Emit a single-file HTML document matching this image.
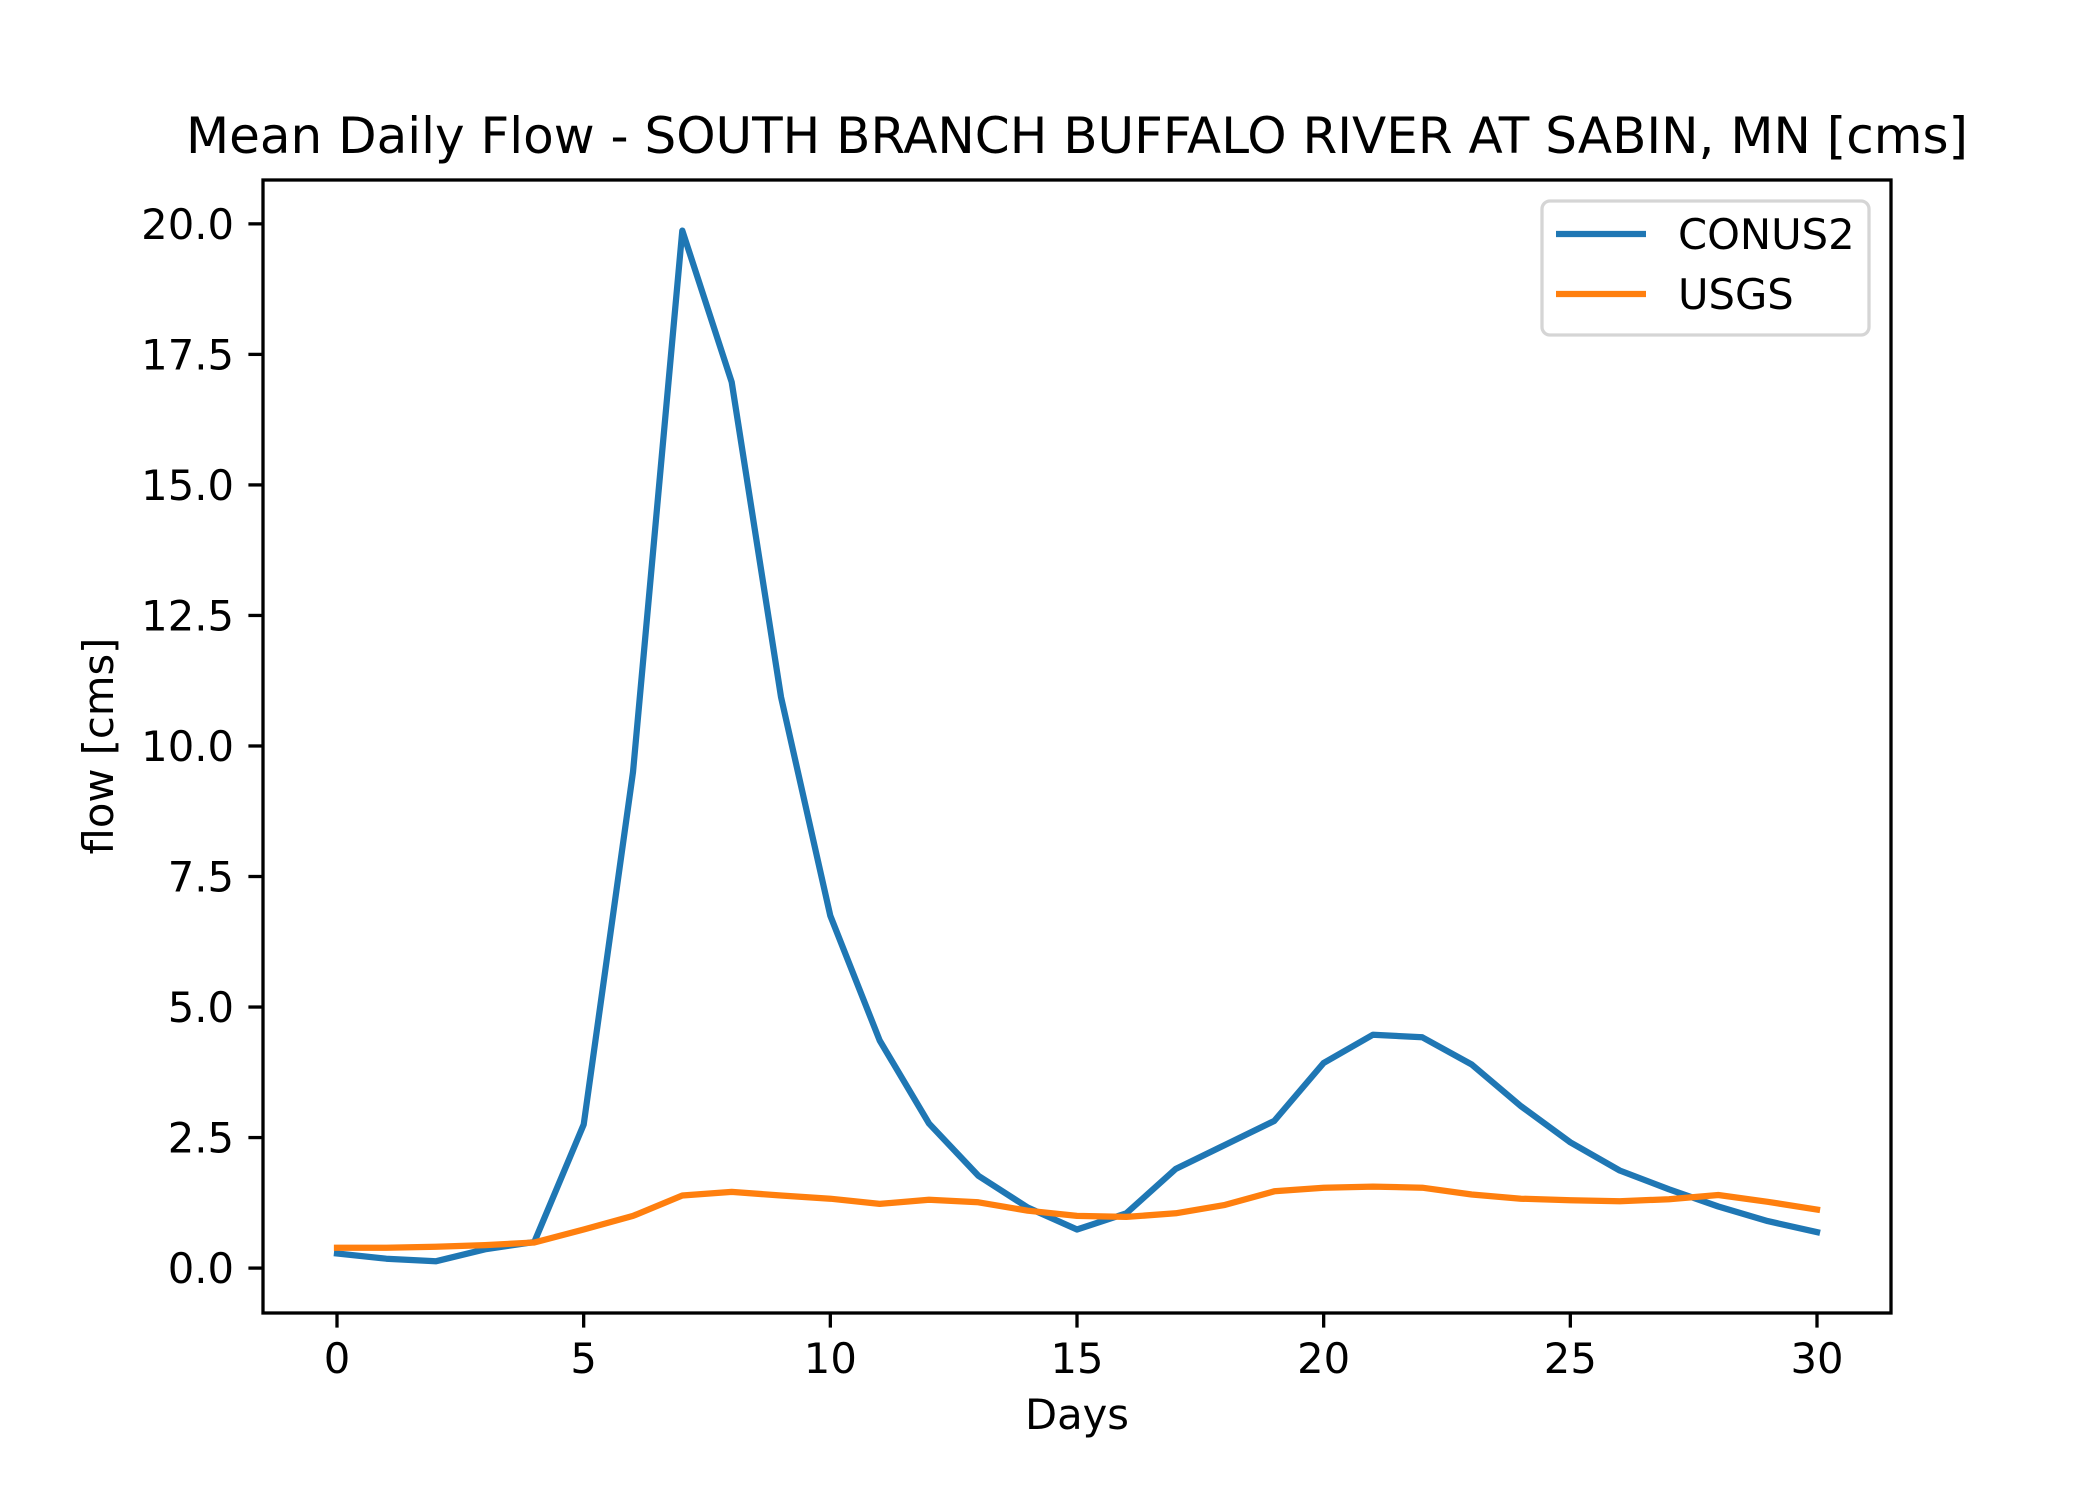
<!DOCTYPE html>
<html><head><meta charset="utf-8"><style>
html,body{margin:0;padding:0;background:#fff}
svg{display:block}
text{font-family:"DejaVu Sans","Liberation Sans",sans-serif;fill:#000}
</style></head><body>
<svg id="chart" width="2100" height="1500" viewBox="0 0 2100 1500" xmlns="http://www.w3.org/2000/svg">
<rect x="0" y="0" width="2100" height="1500" fill="#fff"/>
<text x="1077" y="153" font-size="50" text-anchor="middle">Mean Daily Flow - SOUTH BRANCH BUFFALO RIVER AT SABIN, MN [cms]</text>
<g id="plot"></g>
<rect x="263" y="180" width="1628" height="1133" fill="none" stroke="#000" stroke-width="3.3"/>
<text x="1077" y="1429" font-size="41.7" text-anchor="middle">Days</text>
<text transform="translate(113,746) rotate(-90)" font-size="41.7" text-anchor="middle">flow [cms]</text>
<g>
<rect x="1542" y="201" width="327" height="134" rx="8" fill="#fff" fill-opacity="0.8" stroke="#d5d5d5" stroke-width="3.3"/>
<line x1="1556" y1="234" x2="1646" y2="234" stroke="#1f77b4" stroke-width="6.25"/>
<text x="1678" y="249" font-size="41.7">CONUS2</text>
<line x1="1556" y1="294" x2="1646" y2="294" stroke="#ff7f0e" stroke-width="6.25"/>
<text x="1678" y="309" font-size="41.7">USGS</text>
</g>
</svg>
<script>
const days = [0,1,2,3,4,5,6,7,8,9,10,11,12,13,14,15,16,17,18,19,20,21,22,23,24,25,26,27,28,29,30];
const conus2 = [0.28,0.18,0.13,0.36,0.5,2.75,9.5,19.87,16.97,10.94,6.75,4.36,2.77,1.77,1.16,0.74,1.05,1.9,2.36,2.82,3.93,4.47,4.42,3.9,3.1,2.41,1.87,1.51,1.18,0.9,0.69];
const usgs = [0.39,0.39,0.41,0.44,0.49,0.74,1.0,1.39,1.46,1.39,1.33,1.23,1.31,1.26,1.1,1.0,0.98,1.05,1.21,1.47,1.54,1.56,1.54,1.41,1.33,1.3,1.28,1.32,1.4,1.27,1.12];
const xTicks = [0,5,10,15,20,25,30];
const yTicks = [0,2.5,5,7.5,10,12.5,15,17.5,20];
const yTickLabels = ["0.0","2.5","5.0","7.5","10.0","12.5","15.0","17.5","20.0"];

const L=263,R=1891,T=180,B=1313;
const xMin=-1.5,xMax=31.5,yMin=-0.86,yMax=20.84;
function sx(v){return L+(v-xMin)/(xMax-xMin)*(R-L);}
function sy(v){return B-(v-yMin)/(yMax-yMin)*(B-T);}
const NS="http://www.w3.org/2000/svg";
const svg=document.getElementById('chart');
const plot=document.getElementById('plot');
function mk(tag,attrs,parent){const e=document.createElementNS(NS,tag);for(const k in attrs)e.setAttribute(k,attrs[k]);parent.appendChild(e);return e;}

xTicks.forEach(function(t){
  const ln=mk('line',{x1:sx(t),x2:sx(t),y1:B,y2:B+14.6,stroke:'#000','stroke-width':3.3},svg);
  
  
  const tx=mk('text',{x:sx(t),y:1373,'font-size':41.7,'text-anchor':'middle'},svg);
  tx.textContent=String(t);
  
  
});
yTicks.forEach(function(t,i){
  const ln=mk('line',{x1:L-14.6,x2:L,y1:sy(t),y2:sy(t),stroke:'#000','stroke-width':3.3},svg);
  
  
  const tx=mk('text',{x:L-29,y:sy(t)+15,'font-size':41.7,'text-anchor':'end'},svg);
  tx.textContent=yTickLabels[i];
  
  
});
function series(vals,color,name){
  const pts=vals.map(function(v,i){return sx(days[i]).toFixed(1)+','+sy(v).toFixed(1);}).join(' ');
  const p=mk('polyline',{points:pts,fill:'none',stroke:color,'stroke-width':6.25,'stroke-linejoin':'round','stroke-linecap':'square'},plot);
  
  
}
series(conus2,'#1f77b4','conus2-line');
series(usgs,'#ff7f0e','usgs-line');
</script>
</body></html>
